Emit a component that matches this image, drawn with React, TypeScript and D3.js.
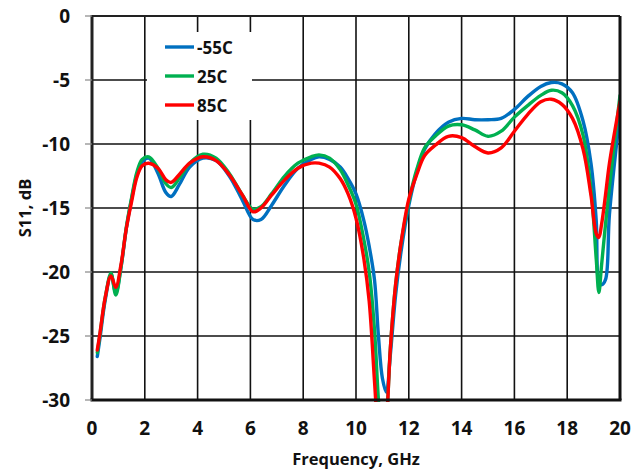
import React from "react";
import * as d3 from "d3";

const freq = [0.2, 0.3, 0.5, 0.72, 0.9, 1.1, 1.3, 1.5, 1.7, 1.9, 2.15, 2.5, 2.8, 3.0, 3.3, 3.7, 4.2, 4.7, 5.2, 5.7, 6.1, 6.4, 6.8, 7.3, 7.8, 8.3, 8.6, 9.0, 9.4, 9.7, 10.0, 10.3, 10.5, 10.7, 10.85, 11.0, 11.15, 11.3, 11.5, 11.7, 12.0, 12.3, 12.6, 13.0, 13.5, 14.0, 14.5, 15.0, 15.5, 16.0, 16.5, 17.0, 17.4, 17.8, 18.2, 18.6, 18.9, 19.1, 19.2, 19.3, 19.45, 19.6, 20.0];

const sM55 = [-26.6, -25.2, -22.2, -20.2, -21.6, -19.6, -16.6, -14.3, -12.4, -11.4, -11.1, -12.3, -13.8, -14.1, -13.2, -11.8, -11.1, -11.3, -12.5, -14.4, -15.9, -15.9, -14.8, -13.2, -11.9, -11.2, -11.0, -11.2, -11.8, -12.7, -13.9, -16.0, -18.0, -20.6, -25.0, -28.3, -29.4, -26.5, -21.8, -18.5, -14.8, -12.2, -10.4, -9.2, -8.3, -8.0, -8.1, -8.1, -8.0, -7.3, -6.3, -5.5, -5.2, -5.3, -6.0, -8.2, -11.5, -16.0, -20.8, -21.0, -20.6, -15.5, -7.6];

const s25 = [-26.3, -24.9, -22.0, -20.1, -21.8, -19.6, -16.5, -14.2, -12.2, -11.2, -11.0, -11.9, -13.1, -13.4, -12.7, -11.5, -10.8, -11.1, -12.3, -14.0, -15.1, -14.9, -13.9, -12.5, -11.5, -11.0, -10.85, -11.1, -12.0, -13.2, -14.7, -17.5, -20.0, -24.5, -30.0, -33.5, -31.5, -26.0, -21.0, -17.8, -14.5, -12.0, -10.3, -9.4, -8.6, -8.5, -8.9, -9.4, -9.0, -7.9, -7.0, -6.2, -5.8, -6.0, -7.0, -9.3, -13.5, -19.0, -21.6, -19.5, -16.3, -13.3, -6.2];

const s85 = [-26.1, -24.8, -22.0, -20.3, -21.2, -19.4, -16.6, -14.5, -12.6, -11.7, -11.5, -11.9, -12.8, -13.0, -12.4, -11.5, -11.0, -11.3, -12.4, -14.0, -15.3, -15.0, -14.0, -12.8, -11.9, -11.5, -11.5, -11.8, -12.7, -13.9, -15.8, -19.0, -22.3, -28.5, -33.0, -35.0, -32.0, -26.0, -21.0, -17.8, -14.3, -12.4, -10.9, -10.1, -9.4, -9.5, -10.2, -10.7, -10.3, -9.0, -7.7, -6.7, -6.5, -6.9, -8.0, -10.4, -14.0, -17.0, -17.3, -16.3, -14.0, -11.5, -6.7];

const seriesNames = ["-55C", "25C", "85C"];
const seriesColors = ["#0070C0", "#00B050", "#FF0000"];
const seriesValues = [sM55, s25, s85];

const xTicks = [0, 2, 4, 6, 8, 10, 12, 14, 16, 18, 20];
const yTicks = [0, -5, -10, -15, -20, -25, -30];

const W = 642;
const H = 474;
const left = 92;
const right = 620;
const top = 16;
const bottom = 400;
const FONT = "'Open Sans', 'DejaVu Sans', sans-serif";

export default function App() {
  const x = d3.scaleLinear().domain([0, 20]).range([left, right]);
  const y = d3.scaleLinear().domain([-30, 0]).range([bottom, top]);
  const line = d3
    .line<number>()
    .x((_, i) => x(freq[i]))
    .y((d) => y(d))
    .curve(d3.curveCatmullRom.alpha(0.5));

  const legX1 = 165;
  const legX2 = 194;
  const legY = [47, 76, 105];

  return (
    <svg
      width={W}
      height={H}
      style={{ position: "absolute", left: 0, top: 0, background: "#fff" }}
      fontFamily={FONT}
    >
      <defs>
        <clipPath id="plotclip">
          <rect x={left} y={top} width={right - left} height={bottom - top + 2} />
        </clipPath>
      </defs>
      <rect x={0} y={0} width={W} height={H} fill="#fff" />
      {/* grid */}
      {xTicks.slice(1, -1).map((t) => (
        <line key={"gx" + t} x1={x(t)} x2={x(t)} y1={top} y2={bottom} stroke="#111" strokeWidth={1.6} />
      ))}
      {yTicks.slice(1, -1).map((t) => (
        <line key={"gy" + t} x1={left} x2={right} y1={y(t)} y2={y(t)} stroke="#111" strokeWidth={1.6} />
      ))}
      {/* legend box */}
      <rect x={147} y={32} width={105} height={88} fill="#fff" />
      {/* series */}
      <g clipPath="url(#plotclip)">
        {seriesValues.map((vals, i) => (
          <path key={"s" + i} d={line(vals) || ""} fill="none" stroke={seriesColors[i]} strokeWidth={3.4} strokeLinejoin="round" strokeLinecap="round" />
        ))}
      </g>
      {/* frame */}
      <line x1={left} x2={right} y1={top} y2={top} stroke="#222" strokeWidth={2} />
      <line x1={right} x2={right} y1={top} y2={bottom} stroke="#111" strokeWidth={3} />
      <line x1={left} x2={left} y1={top - 1} y2={bottom} stroke="#222" strokeWidth={3} />
      <line x1={left - 1.5} x2={right + 1.5} y1={bottom} y2={bottom} stroke="#111" strokeWidth={3} />
      {/* y ticks */}
      {yTicks.map((t) => (
        <g key={"yt" + t}>
          <line x1={left - 7} x2={left} y1={y(t)} y2={y(t)} stroke="#888" strokeWidth={1.2} />
          <text x={70} y={y(t)} textAnchor="end" dominantBaseline="central" fontSize={19} fontWeight="bold" fill="#111">
            {t}
          </text>
        </g>
      ))}
      {/* x ticks */}
      {xTicks.map((t) => (
        <text key={"xt" + t} x={x(t)} y={435} textAnchor="middle" fontSize={19} fontWeight="bold" fill="#111">
          {t}
        </text>
      ))}
      {/* axis titles */}
      <text x={(left + right) / 2} y={465} textAnchor="middle" fontSize={16.5} fontWeight="bold" fill="#111">
        Frequency, GHz
      </text>
      <text transform={`translate(31, ${(top + bottom) / 2}) rotate(-90)`} textAnchor="middle" fontSize={16.5} fontWeight="bold" fill="#111">
        S11, dB
      </text>
      {/* legend */}
      {seriesNames.map((n, i) => (
        <g key={"lg" + i}>
          <line x1={legX1} x2={legX2} y1={legY[i]} y2={legY[i]} stroke={seriesColors[i]} strokeWidth={3.4} />
          <text x={197} y={legY[i]} dominantBaseline="central" fontSize={17} fontWeight="bold" fill="#111">
            {n}
          </text>
        </g>
      ))}
    </svg>
  );
}
